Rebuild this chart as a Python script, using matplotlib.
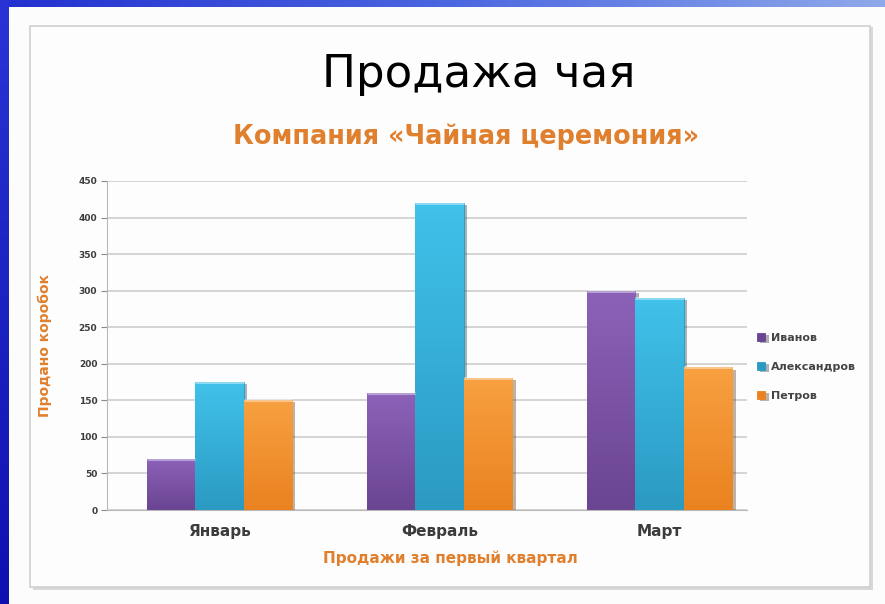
import numpy as np
import matplotlib
matplotlib.use('Agg')
import matplotlib.pyplot as plt
from matplotlib.colors import LinearSegmentedColormap
from matplotlib.patches import Rectangle
import matplotlib.patheffects as pe

# data
months = ['Январь', 'Февраль', 'Март']
series = ['Иванов', 'Александров', 'Петров']
ivanov = [70, 160, 300]
aleksandrov = [175, 420, 290]
petrov = [150, 180, 195]
yticks = [0, 50, 100, 150, 200, 250, 300, 350, 400, 450]

# colours: (top, bottom) of each bar gradient
shades = [('#8c62b8', '#6a4592'), ('#40c2ea', '#2b9ac2'), ('#f8a040', '#ea8220')]
orange_txt = '#e0802e'

W, H = 885, 604
fig = plt.figure(figsize=(W / 100, H / 100), dpi=100)
fig.patch.set_facecolor('#fbfcfb')

def fx(px):
    return px / W

def fy(py):
    return 1 - py / H

# blue frame of the slide
top = fig.add_axes([0, fy(7), 1, 7 / H])
top.imshow(np.linspace(0, 1, 256)[None, :], aspect='auto',
           cmap=LinearSegmentedColormap.from_list('t', ['#2430d0', '#4a66e0', '#8fa8ea']))
top.axis('off')
left = fig.add_axes([0, 0, fx(9), 1])
left.imshow(np.linspace(0, 1, 256)[:, None], aspect='auto',
            cmap=LinearSegmentedColormap.from_list('l', ['#2a34d4', '#1010b0']))
left.axis('off')

# chart panel with a soft shadow
fig.patches.append(Rectangle((fx(33), fy(590)), fx(873) - fx(33), fy(27) - fy(590),
                             transform=fig.transFigure, facecolor='#d8d8d8', edgecolor='none', zorder=-2))
fig.patches.append(Rectangle((fx(30), fy(587)), fx(870) - fx(30), fy(26) - fy(587),
                             transform=fig.transFigure, facecolor='#fcfdfc', edgecolor='#d0d0d0',
                             linewidth=1.2, zorder=-1))

ax = fig.add_axes([fx(107), fy(510), fx(747) - fx(107), fy(181) - fy(510)])
ax.set_facecolor('none')
ax.set_zorder(2)

x = np.arange(len(months))
bw = 0.22
vals = [ivanov, aleksandrov, petrov]
for i, (name, v) in enumerate(zip(series, vals)):
    top_c, bot_c = shades[i]
    bars = ax.bar(x + (i - 1) * bw, v, bw, color=bot_c, label=name, zorder=3,
                  edgecolor=bot_c, linewidth=0.6,
                  path_effects=[pe.SimplePatchShadow(offset=(2.5, -1.5), alpha=0.35), pe.Normal()])
    cmap = LinearSegmentedColormap.from_list('g%d' % i, [bot_c, top_c])
    for b in bars:
        bx, by = b.get_x(), b.get_y()
        bwid, bh = b.get_width(), b.get_height()
        im = ax.imshow(np.linspace(0, 1, 128)[:, None], aspect='auto', cmap=cmap, origin='lower',
                       extent=[bx, bx + bwid, by, by + bh], zorder=4)
        im.set_clip_path(b)
        # light cap on top of the bar
        ax.plot([bx, bx + bwid], [by + bh, by + bh], color='white', alpha=0.4, lw=2.2,
                zorder=5, solid_capstyle='butt')

ax.set_xlim(-0.511, 2.398)
ax.set_ylim(0, 450)
ax.set_yticks(yticks)
ax.set_xticks(x)
ax.set_xticklabels(months, fontsize=11, fontweight='bold', color='#3c3c3c')
ax.tick_params(axis='x', length=0, pad=10)
ax.tick_params(axis='y', length=4, pad=3, labelsize=6.5, colors='#8a8a8a', labelcolor='#3c3c3c')
for lab in ax.get_yticklabels():
    lab.set_fontweight('bold')
ax.grid(axis='y', color='#c9c9c9', linewidth=1.1, zorder=0)
ax.set_axisbelow(True)
for s in ['top', 'right']:
    ax.spines[s].set_visible(False)
ax.spines['left'].set_color('#b8b8b8')
ax.spines['bottom'].set_color('#b8b8b8')

ax.set_ylabel('Продано коробок', fontsize=10, fontweight='bold', color=orange_txt)
ax.yaxis.set_label_coords((52 - 107) / 640, 0.5)
ax.text((450 - 107) / 640, (510 - 558) / 329, 'Продажи за первый квартал', transform=ax.transAxes,
        ha='center', va='center', fontsize=11, fontweight='bold', color=orange_txt)

fig.text(fx(479), fy(75), 'Продажа чая', ha='center', va='center', fontsize=32.5, color='black')
fig.text(fx(466), fy(137), 'Компания «Чайная церемония»', ha='center', va='center',
         fontsize=18.4, fontweight='bold', color=orange_txt)

leg = ax.legend(loc='center left', bbox_to_anchor=(fx(757), fy(367)), bbox_transform=fig.transFigure,
                frameon=False, fontsize=8, handlelength=0.75, handleheight=0.75, handletextpad=0.5,
                labelspacing=1.7, borderpad=0, borderaxespad=0)
for t in leg.get_texts():
    t.set_color('#444444')
    t.set_fontweight('bold')

fig.savefig('out.png', dpi=100)
